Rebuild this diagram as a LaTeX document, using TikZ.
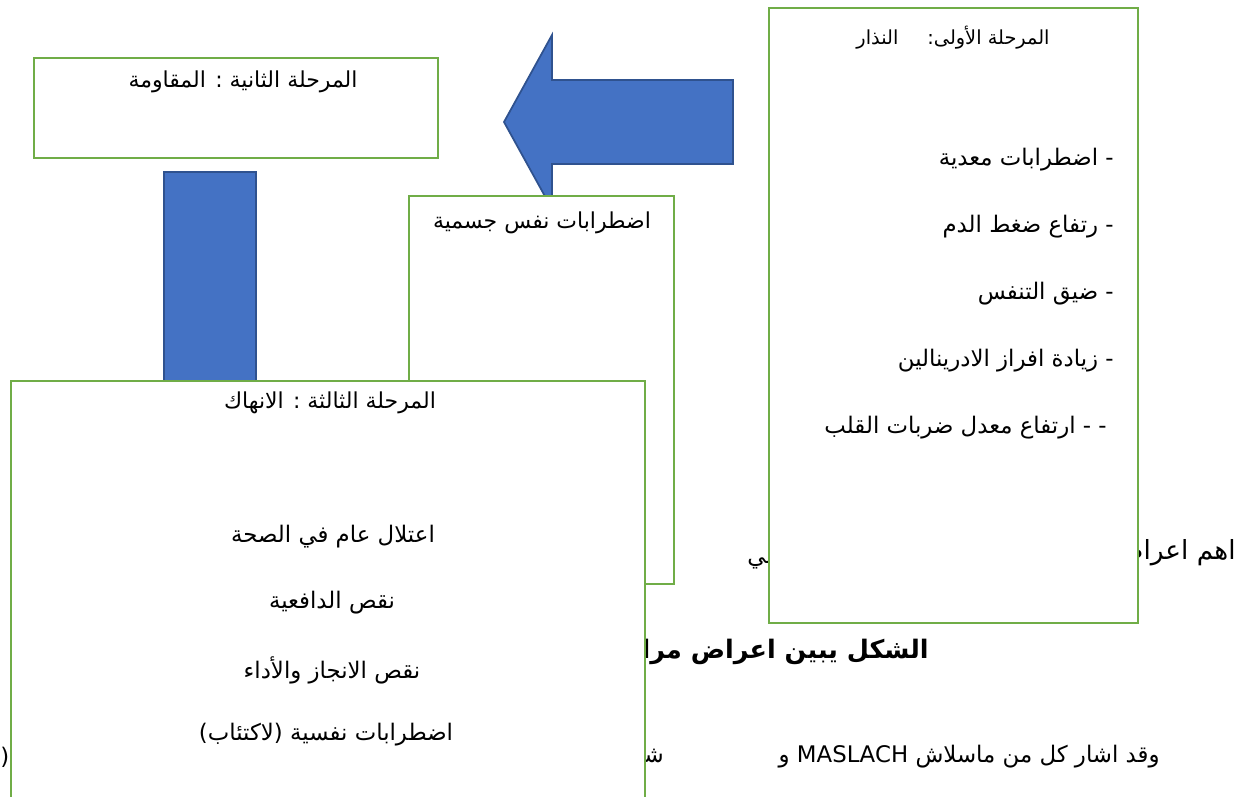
\documentclass[tikz,border=0pt]{standalone}
\usepackage{fontspec}
\newfontfamily\arabicfont[Script=Arabic]{DejaVu Sans}
\TeXXeTstate=1

\definecolor{boxgreen}{HTML}{70AD47}
\definecolor{arrowblue}{HTML}{4472C4}
\definecolor{arrowline}{HTML}{2F528F}

\tikzset{
    stagebox/.style={draw=boxgreen, line width=1.4pt, fill=white, anchor=north west, inner sep=0pt},
    bigarrow/.style={draw=arrowline, line width=1pt, fill=arrowblue, line join=miter},
    boxtxt/.style={font=\arabicfont\fontsize{13}{15}\selectfont, inner sep=0pt},
    titletxt/.style={font=\arabicfont\fontsize{12.5}{15}\selectfont, inner sep=0pt},
    pagetxt/.style={font=\arabicfont\fontsize{13}{15}\selectfont, inner sep=0pt},
}

\begin{document}
\begin{tikzpicture}[x=0.02cm, y=-0.02cm]

        \useasboundingbox (0,0) rectangle (1245,796);

        % page text behind the figure
        \node[pagetxt, font=\arabicfont\fontsize{15}{17}\selectfont, anchor=east] (lineA) at (1236,553) {\beginR اهم اعراض\endR};
        \node[pagetxt, anchor=west] (lineB) at (747,558) {\beginR النفسي\endR};
        \node[pagetxt, font=\arabicfont\bfseries\fontsize{14.5}{17}\selectfont, anchor=east] (caption) at (929,652) {\beginR الشكل يبين اعراض مراحل\endR};
        \node[pagetxt, anchor=east] (lineC) at (1160,757) {\beginR وقد اشار كل من ماسلاش \beginL MASLACH\endL{} و\hspace{2.3cm}شاوفلي\endR};
        \node[pagetxt, anchor=west] (edgemark) at (0,757) {(};

        % first stage
        \node[stagebox, minimum width=7.38cm, minimum height=12.3cm] (alarm) at (768,7) {};
        \node[titletxt, font=\arabicfont\fontsize{11}{13}\selectfont] (alarmtitle) at (953,38) {\beginR المرحلة الأولى:\hspace{1.5em}النذار\endR};
        \node[boxtxt, anchor=east] (sym1) at (1114,160) {\beginR - اضطرابات معدية\endR};
        \node[boxtxt, anchor=east] (sym2) at (1114,227) {\beginR - رتفاع ضغط الدم\endR};
        \node[boxtxt, anchor=east] (sym3) at (1114,294) {\beginR - ضيق التنفس\endR};
        \node[boxtxt, anchor=east] (sym4) at (1114,361) {\beginR - زيادة افراز الادرينالين\endR};
        \node[boxtxt, anchor=east] (sym5) at (1107,428) {\beginR - - ارتفاع معدل ضربات القلب\endR};

        % second stage
        \node[stagebox, minimum width=8.08cm, minimum height=2cm] (resist) at (33,57) {};
        \node[titletxt] (resisttitle) at (243,82) {\beginR المرحلة الثانية : المقاومة\endR};

        \draw[bigarrow] (504,122) -- (552,35) -- (552,80) -- (733,80) -- (733,164)
            -- (552,164) -- (552,209) -- cycle;

        \node[stagebox, minimum width=5.3cm, minimum height=7.76cm] (psycho) at (408,195) {};
        \node[titletxt] (psychotitle) at (542,223) {\beginR اضطرابات نفس جسمية\endR};

        \draw[bigarrow] (164,172) rectangle (256,480);

        % third stage
        \node[stagebox, minimum width=12.68cm, minimum height=10cm] (exhaust) at (10,380) {};
        \node[titletxt] (exhausttitle) at (330,403) {\beginR المرحلة الثالثة : الانهاك\endR};
        \node[boxtxt] (ex1) at (333,537) {\beginR اعتلال عام في الصحة\endR};
        \node[boxtxt] (ex2) at (332,603) {\beginR نقص الدافعية\endR};
        \node[boxtxt] (ex3) at (332,670) {\beginR نقص الانجاز والأداء\endR};
        \node[boxtxt] (ex4) at (326,735) {\beginR اضطرابات نفسية (لاكتئاب)\endR};

\end{tikzpicture}
\end{document}
